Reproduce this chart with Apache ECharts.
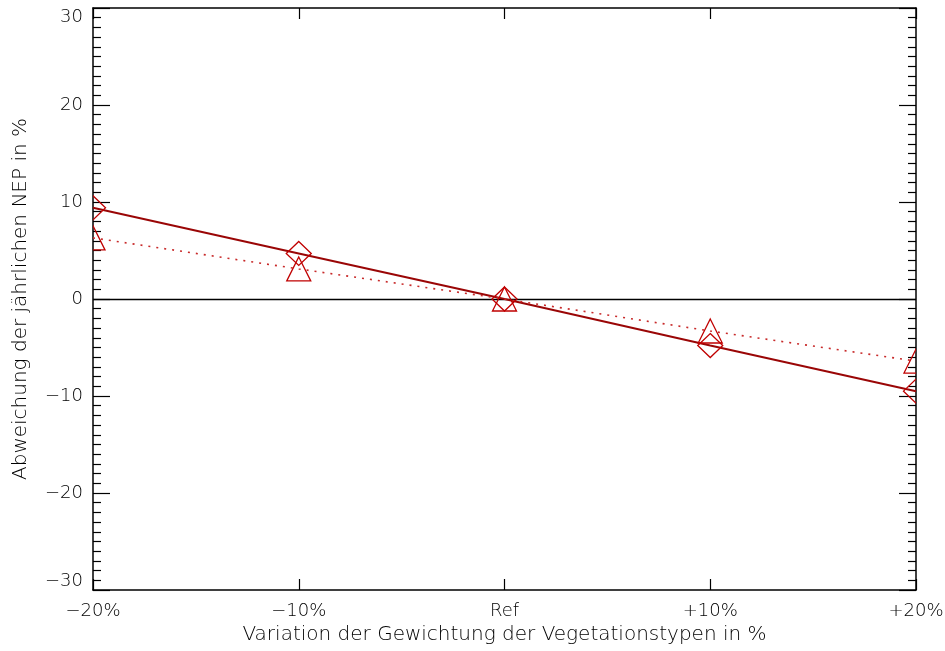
<!DOCTYPE html>
<html>
<head>
<meta charset="utf-8">
<script src="https://cdn.jsdelivr.net/npm/echarts@6/dist/echarts.min.js"></script>
<style>
  html, body { margin: 0; padding: 0; background: #ffffff; }
  #chart { width: 945px; height: 651px; }
</style>
</head>
<body>
<div id="chart"></div>
<script>
// Weighting variation steps (x positions) and their tick labels
const xValues = [-20, -10, 0, 10, 20];
const xTickLabels = ['\u221220%', '\u221210%', 'Ref', '+10%', '+20%'];

// Deviation of annual NEP in % for each variation step
const nepDiamond = [9.4, 4.7, 0, -4.8, -9.5];   // solid line, diamond symbols
const nepTriangle = [6.3, 3.1, 0, -3.3, -6.4];  // dotted line, triangle symbols

const FONT = 'DejaVu Sans';
const INK = '#000000';
const RED_SOLID = '#9a0606';
const RED_DOT = '#c82a2a';
const RED_SYM = '#c00000';

const pairs = (ys) => xValues.map((x, i) => [x, ys[i]]);

function diamondItem(params, api) {
  const p = api.coord([api.value(0), api.value(1)]);
  return {
    type: 'polygon',
    shape: { points: [[p[0], p[1] - 12], [p[0] + 12.5, p[1]], [p[0], p[1] + 12], [p[0] - 12.5, p[1]]] },
    style: { fill: 'none', stroke: RED_SYM, lineWidth: 1.3 }
  };
}

function triangleItem(params, api) {
  const p = api.coord([api.value(0), api.value(1)]);
  return {
    type: 'polygon',
    shape: { points: [[p[0], p[1] - 12], [p[0] + 12, p[1] + 12], [p[0] - 12, p[1] + 12]] },
    style: { fill: 'none', stroke: RED_SYM, lineWidth: 1.3 }
  };
}

const yLabel = (v) => (v < 0 ? '\u2212' + (-v) : String(v));

const labelStyle = { color: INK, fontFamily: FONT, fontSize: 18, fontWeight: 200 };
const nameStyle = { color: INK, fontFamily: FONT, fontSize: 20, fontWeight: 200 };
const frameLine = { show: true, onZero: false, lineStyle: { color: INK, width: 1.5 } };

const chart = echarts.init(document.getElementById('chart'), null, { renderer: 'canvas' });

chart.setOption({
  backgroundColor: '#ffffff',
  animation: false,
  grid: { left: 93, right: 29, top: 8, bottom: 61, containLabel: false, outerBoundsMode: 'none' },
  xAxis: [
    {
      type: 'value', position: 'bottom', min: -20, max: 20, interval: 10,
      axisLine: frameLine,
      axisTick: { show: true, inside: true, length: 11, lineStyle: { color: INK, width: 1.2 } },
      splitLine: { show: false },
      axisLabel: Object.assign({ margin: 12, formatter: (v) => xTickLabels[xValues.indexOf(v)] }, labelStyle),
      name: 'Variation der Gewichtung der Vegetationstypen in %',
      nameLocation: 'middle', nameGap: 33,
      nameTextStyle: nameStyle
    },
    {
      type: 'value', position: 'top', min: -20, max: 20, interval: 10,
      axisLine: frameLine,
      axisTick: { show: true, inside: true, length: 11, lineStyle: { color: INK, width: 1.2 } },
      splitLine: { show: false },
      axisLabel: { show: false }
    }
  ],
  yAxis: [
    {
      type: 'value', position: 'left', min: -30, max: 30, interval: 10,
      axisLine: frameLine,
      axisTick: { show: true, inside: true, length: 17, lineStyle: { color: INK, width: 1.2 } },
      minorTick: { show: true, splitNumber: 10, length: 8, lineStyle: { color: INK, width: 1.2 } },
      splitLine: { show: false },
      axisLabel: Object.assign({
        margin: 10, formatter: yLabel,
        verticalAlignMaxLabel: 'top', verticalAlignMinLabel: 'bottom'
      }, labelStyle),
      name: 'Abweichung der j\u00e4hrlichen NEP in %',
      nameLocation: 'middle', nameGap: 62, nameRotate: 90,
      nameTextStyle: nameStyle
    },
    {
      type: 'value', position: 'right', min: -30, max: 30, interval: 10,
      axisLine: frameLine,
      axisTick: { show: true, inside: true, length: 17, lineStyle: { color: INK, width: 1.2 } },
      minorTick: { show: true, splitNumber: 10, length: 8, lineStyle: { color: INK, width: 1.2 } },
      splitLine: { show: false },
      axisLabel: { show: false }
    }
  ],
  series: [
    {
      type: 'line', name: 'NEP (solid)', data: pairs(nepDiamond),
      xAxisIndex: 0, yAxisIndex: 0, showSymbol: false, clip: true, z: 3,
      lineStyle: { color: RED_SOLID, width: 2 },
      markLine: {
        silent: true, symbol: ['none', 'none'], label: { show: false },
        lineStyle: { color: INK, type: 'solid', width: 1.4 },
        data: [{ yAxis: 0 }], z: 2
      }
    },
    {
      type: 'line', name: 'NEP (dotted)', data: pairs(nepTriangle),
      xAxisIndex: 0, yAxisIndex: 0, showSymbol: false, clip: true, z: 3,
      lineStyle: { color: RED_DOT, width: 1.6, type: [2, 6] }
    },
    {
      type: 'custom', name: 'diamonds', data: pairs(nepDiamond),
      xAxisIndex: 0, yAxisIndex: 0, clip: true, z: 4,
      encode: { x: 0, y: 1 }, renderItem: diamondItem
    },
    {
      type: 'custom', name: 'triangles', data: pairs(nepTriangle),
      xAxisIndex: 0, yAxisIndex: 0, clip: true, z: 4,
      encode: { x: 0, y: 1 }, renderItem: triangleItem
    }
  ]
});
</script>
</body>
</html>
